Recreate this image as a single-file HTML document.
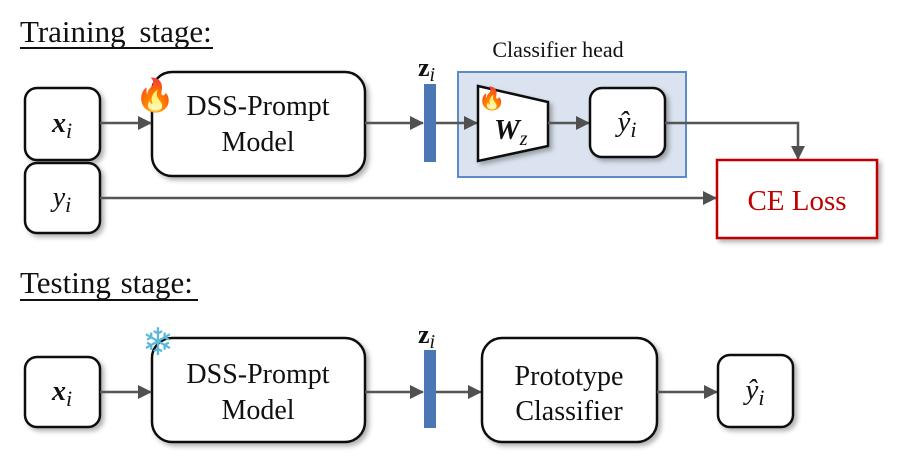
<!DOCTYPE html>
<html><head><meta charset="utf-8"><style>
body{margin:0;background:#fff}
svg{display:block}
text{font-family:"Liberation Serif",serif;fill:#111}
</style></head><body>
<svg width="897" height="462" viewBox="0 0 897 462" xmlns="http://www.w3.org/2000/svg">
<defs>
<marker id="ar" markerWidth="14" markerHeight="14" refX="13" refY="7" orient="auto" markerUnits="userSpaceOnUse">
<path d="M0,0 L14,7 L0,14 z" fill="#505050"/></marker>
<filter id="sh" x="-20%" y="-20%" width="150%" height="150%"><feDropShadow dx="3" dy="3" stdDeviation="2.5" flood-color="#000" flood-opacity="0.3"/></filter>
</defs>
<!-- Training -->
<text x="20" y="42" font-size="31" word-spacing="6">Training stage:</text>
<line x1="20" y1="48" x2="213" y2="48" stroke="#111" stroke-width="2"/>
<text x="558" y="57" font-size="22" text-anchor="middle">Classifier head</text>
<rect x="458" y="72" width="228" height="105" fill="#dae3ef" stroke="#5b8cc4" stroke-width="2"/>

<rect x="25" y="88" width="75" height="72" rx="12" fill="#fff" stroke="#111" stroke-width="2.5" filter="url(#sh)"/>
<text x="62" y="132" font-size="28" text-anchor="middle" font-weight="bold" font-style="italic">x<tspan font-weight="normal" font-size="22" dy="6">i</tspan></text>
<rect x="25" y="163" width="75" height="70" rx="12" fill="#fff" stroke="#111" stroke-width="2.5" filter="url(#sh)"/>
<text x="62" y="206" font-size="28" text-anchor="middle" font-style="italic">y<tspan font-size="22" dy="6">i</tspan></text>

<rect x="152" y="72" width="213" height="104" rx="20" fill="#fff" stroke="#111" stroke-width="2.5" filter="url(#sh)"/>
<text x="258" y="115" font-size="28" text-anchor="middle">DSS-Prompt</text>
<text x="258" y="151" font-size="28" text-anchor="middle">Model</text>
<text x="135" y="106" font-size="32">🔥</text>

<line x1="100" y1="123" x2="151" y2="123" stroke="#555" stroke-width="2.5" marker-end="url(#ar)"/>
<line x1="365" y1="123" x2="423" y2="123" stroke="#555" stroke-width="2.5" marker-end="url(#ar)"/>
<rect x="424" y="84" width="12" height="78" fill="#4a78b5"/>
<text x="418" y="76" font-size="26" font-weight="bold">z<tspan font-weight="normal" font-style="italic" font-size="20" dy="5">i</tspan></text>
<line x1="436" y1="123" x2="477" y2="123" stroke="#555" stroke-width="2.5" marker-end="url(#ar)"/>

<polygon points="478,86 548,102 548,146 478,161" fill="#fff" stroke="#111" stroke-width="2.5" filter="url(#sh)"/>
<text x="478" y="106" font-size="22">🔥</text>
<text x="494" y="139" font-size="29" font-weight="bold" font-style="italic">W<tspan font-weight="normal" font-size="20" dy="6">z</tspan></text>
<line x1="548" y1="123" x2="589" y2="123" stroke="#555" stroke-width="2.5" marker-end="url(#ar)"/>
<rect x="590" y="88" width="75" height="69" rx="12" fill="#fff" stroke="#111" stroke-width="2.5" filter="url(#sh)"/>
<text x="627" y="131" font-size="29" text-anchor="middle" font-style="italic">ŷ<tspan font-size="22" dy="6">i</tspan></text>

<polyline points="665,123 798,123 798,159" fill="none" stroke="#555" stroke-width="2.5" marker-end="url(#ar)"/>
<line x1="100" y1="198" x2="716" y2="198" stroke="#555" stroke-width="2.5" marker-end="url(#ar)"/>
<rect x="717" y="160" width="160" height="78" fill="#fff" stroke="#c00000" stroke-width="2.5" filter="url(#sh)"/>
<text x="797" y="210" font-size="29" text-anchor="middle" style="fill:#c00000">CE Loss</text>

<!-- Testing -->
<text x="20" y="293" font-size="31" word-spacing="2">Testing stage:</text>
<line x1="20" y1="300" x2="198" y2="300" stroke="#111" stroke-width="2"/>

<rect x="25" y="357" width="75" height="70" rx="12" fill="#fff" stroke="#111" stroke-width="2.5" filter="url(#sh)"/>
<text x="62" y="400" font-size="28" text-anchor="middle" font-weight="bold" font-style="italic">x<tspan font-weight="normal" font-size="22" dy="6">i</tspan></text>
<rect x="152" y="338" width="213" height="104" rx="20" fill="#fff" stroke="#111" stroke-width="2.5" filter="url(#sh)"/>
<text x="258" y="383" font-size="28" text-anchor="middle">DSS-Prompt</text>
<text x="258" y="419" font-size="28" text-anchor="middle">Model</text>
<text x="142" y="355" font-size="38" style="fill:#5ab8d8">❄</text>

<line x1="100" y1="392" x2="151" y2="392" stroke="#555" stroke-width="2.5" marker-end="url(#ar)"/>
<line x1="365" y1="392" x2="423" y2="392" stroke="#555" stroke-width="2.5" marker-end="url(#ar)"/>
<rect x="424" y="350" width="12" height="78" fill="#4a78b5"/>
<text x="418" y="343" font-size="26" font-weight="bold">z<tspan font-weight="normal" font-style="italic" font-size="20" dy="5">i</tspan></text>
<line x1="436" y1="392" x2="481" y2="392" stroke="#555" stroke-width="2.5" marker-end="url(#ar)"/>
<rect x="482" y="338" width="175" height="104" rx="20" fill="#fff" stroke="#111" stroke-width="2.5" filter="url(#sh)"/>
<text x="569" y="385" font-size="28" text-anchor="middle">Prototype</text>
<text x="569" y="420" font-size="28" text-anchor="middle">Classifier</text>
<line x1="657" y1="392" x2="717" y2="392" stroke="#555" stroke-width="2.5" marker-end="url(#ar)"/>
<rect x="718" y="355" width="75" height="72" rx="12" fill="#fff" stroke="#111" stroke-width="2.5" filter="url(#sh)"/>
<text x="755" y="399" font-size="29" text-anchor="middle" font-style="italic">ŷ<tspan font-size="22" dy="6">i</tspan></text>
</svg>
</body></html>
